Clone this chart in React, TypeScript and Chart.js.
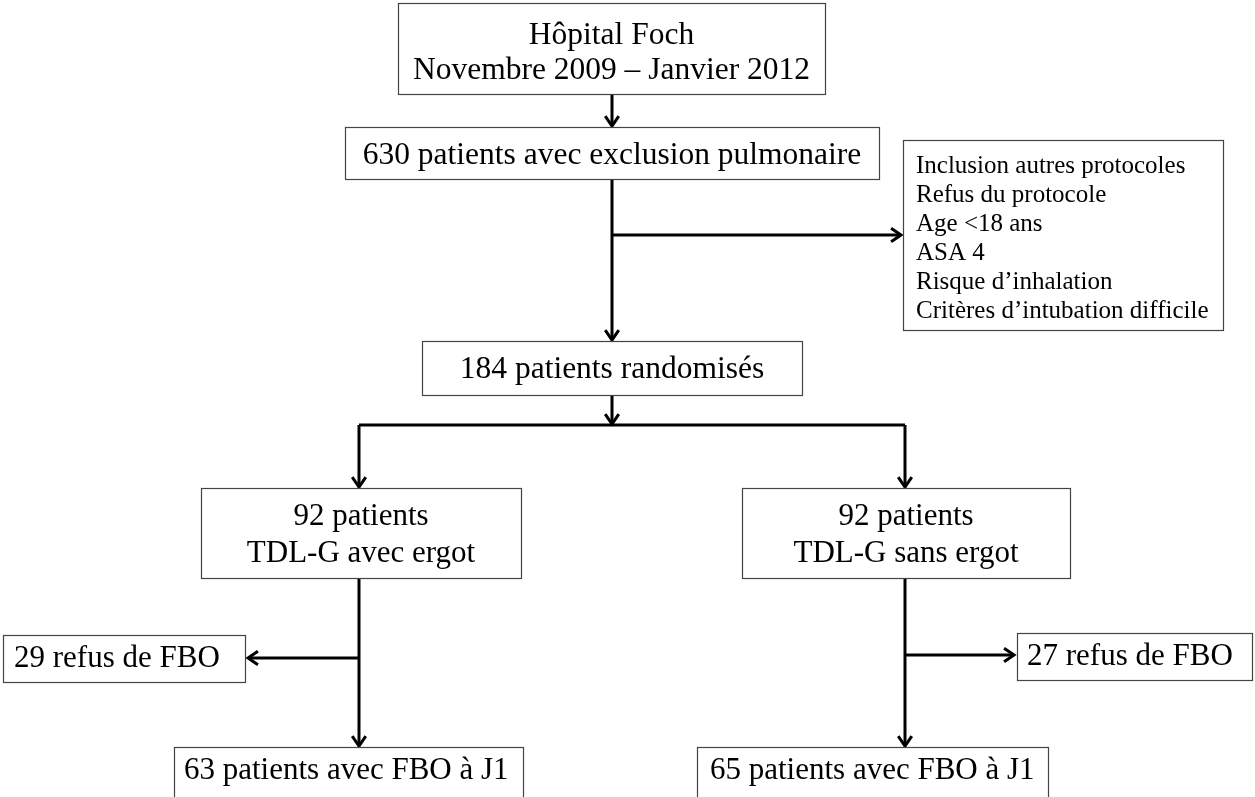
import React, { useEffect, useRef } from "react";
import { Chart, registerables } from "chart.js";
Chart.register(...registerables);

// Flowchart nodes (data coordinates: x 0..1255, y 0..797 top-down)
const boxLabels: string[][] = [
  ["Hôpital Foch", "Novembre 2009 – Janvier 2012"],
  ["630 patients avec exclusion pulmonaire"],
  ["Inclusion autres protocoles", "Refus du protocole", "Age <18 ans", "ASA 4", "Risque d’inhalation", "Critères d’intubation difficile"],
  ["184 patients randomisés"],
  ["92 patients", "TDL-G avec ergot"],
  ["92 patients", "TDL-G sans ergot"],
  ["29 refus de FBO"],
  ["27 refus de FBO"],
  ["63 patients avec FBO à J1"],
  ["65 patients avec FBO à J1"],
];
const boxLeft = [398, 345, 903, 422, 201, 742, 3, 1017, 174, 697];
const boxRight = [825, 879, 1223, 802, 521, 1070, 245, 1252, 523, 1048];
const boxTop = [3, 127, 140, 341, 488, 488, 635, 633, 747, 747];
const boxBottom = [94, 179, 330, 395, 578, 578, 682, 680, 830, 830];
const boxAlign = ["center", "center", "left", "center", "center", "center", "left", "left", "left", "left"];
const boxFont = [31.5, 31.5, 25, 31.5, 31, 31, 31, 31, 31, 31];
const boxLineY: number[][] = [
  [36, 71],
  [156],
  [166, 195, 224, 253, 282, 311],
  [370],
  [517, 554],
  [517, 554],
  [659],
  [657],
  [771],
  [771],
];
const boxTextX = [0, 0, 916, 0, 0, 0, 14, 1027, 184, 710];

// Connector segments: x1, y1, x2, y2, arrow at end (1) or not (0)
const segX1 = [612, 612, 612, 612, 359, 359, 905, 905, 359, 359, 905, 905];
const segY1 = [94, 179, 235, 395, 425, 425, 425, 425, 578, 658, 578, 655];
const segX2 = [612, 612, 901, 612, 905, 359, 905, 905, 359, 248, 905, 1014];
const segY2 = [126, 340, 235, 424, 425, 487, 425, 487, 746, 658, 746, 655];
const segArrow = [1, 1, 1, 1, 0, 1, 0, 1, 1, 1, 1, 1];

const flowPlugin = {
  id: "flow",
  afterDraw(chart: any) {
    const ctx = chart.ctx as CanvasRenderingContext2D;
    const xs = chart.scales.x;
    const ys = chart.scales.y;
    const px = (v: number) => xs.getPixelForValue(v);
    const py = (v: number) => ys.getPixelForValue(v);
    ctx.save();
    ctx.strokeStyle = "#000";
    ctx.lineWidth = 3;
    ctx.lineCap = "butt";
    ctx.lineJoin = "miter";
    for (let i = 0; i < segX1.length; i++) {
      const x1 = px(segX1[i]), y1 = py(segY1[i]), x2 = px(segX2[i]), y2 = py(segY2[i]);
      ctx.beginPath();
      ctx.moveTo(x1, y1);
      ctx.lineTo(x2, y2);
      ctx.stroke();
      if (segArrow[i]) {
        const ang = Math.atan2(y2 - y1, x2 - x1);
        const len = 12, spread = 0.6;
        ctx.beginPath();
        ctx.moveTo(x2 - len * Math.cos(ang - spread), y2 - len * Math.sin(ang - spread));
        ctx.lineTo(x2, y2);
        ctx.lineTo(x2 - len * Math.cos(ang + spread), y2 - len * Math.sin(ang + spread));
        ctx.stroke();
      }
    }
    for (let i = 0; i < boxLabels.length; i++) {
      const l = px(boxLeft[i]), r = px(boxRight[i]), t = py(boxTop[i]), b = py(boxBottom[i]);
      ctx.fillStyle = "#fff";
      ctx.fillRect(l, t, r - l, b - t);
      ctx.strokeStyle = "#444";
      ctx.lineWidth = 1.2;
      ctx.strokeRect(Math.round(l) + 0.5, Math.round(t) + 0.5, r - l, b - t);
      ctx.fillStyle = "#000";
      ctx.font = `${boxFont[i]}px "Liberation Serif", "DejaVu Serif", serif`;
      ctx.textBaseline = "middle";
      const align = boxAlign[i] as CanvasTextAlign;
      ctx.textAlign = align;
      const tx = align === "center" ? (l + r) / 2 : px(boxTextX[i]);
      boxLabels[i].forEach((line, j) => {
        ctx.fillText(line, tx, py(boxLineY[i][j]));
      });
    }
    ctx.restore();
  },
};

export default function App() {
  const ref = useRef<HTMLCanvasElement>(null);
  useEffect(() => {
    if (!ref.current) return;
    const chart = new Chart(ref.current, {
      type: "scatter",
      data: {
        datasets: [
          {
            data: boxLabels.map((_, i) => ({ x: (boxLeft[i] + boxRight[i]) / 2, y: (boxTop[i] + boxBottom[i]) / 2 })),
            pointRadius: 0,
            showLine: false,
          },
        ],
      },
      options: {
        responsive: false,
        animation: false,
        layout: { padding: 0 },
        plugins: { legend: { display: false }, tooltip: { enabled: false } },
        scales: {
          x: { type: "linear", min: 0, max: 1255, display: false },
          y: { type: "linear", min: 0, max: 797, reverse: true, display: false },
        },
      },
      plugins: [flowPlugin],
    });
    return () => chart.destroy();
  }, []);
  return (
    <div style={{ position: "fixed", left: 0, top: 0, width: 1255, height: 797, background: "#fff" }}>
      <canvas ref={ref} width={1255} height={797} style={{ display: "block" }} />
    </div>
  );
}
